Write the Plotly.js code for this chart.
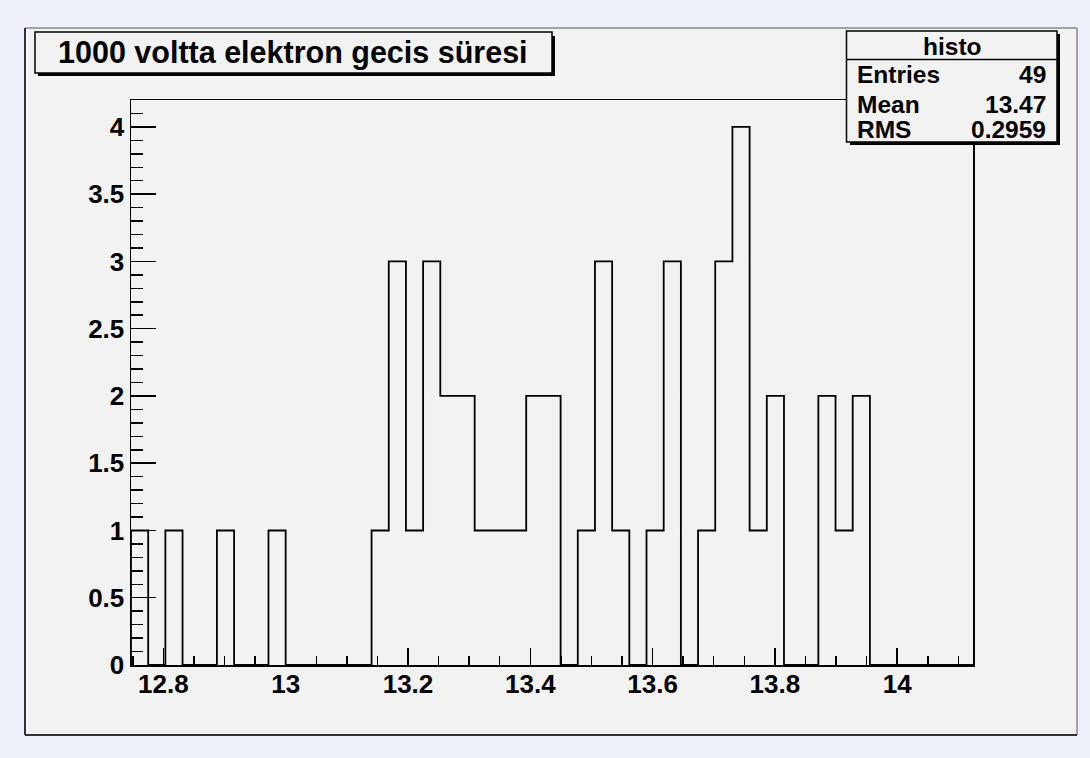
<!DOCTYPE html>
<html>
<head>
<meta charset="utf-8">
<script src="https://cdn.plot.ly/plotly-3.0.1.min.js"></script>
<style>
  html, body { margin: 0; padding: 0; background: #edf0f8; }
  #chart { width: 1090px; height: 758px; }
</style>
</head>
<body>
<div id="chart"></div>
<script>
// ---- data ----
const histName = "histo";
const chartTitle = "1000 voltta elektron gecis süresi";
const xMin = 12.747;
const xMax = 14.124;
const nBins = 49;
const binCounts = [1,0,1,0,0,1,0,0,1,0,0,0,0,0,1,3,1,3,2,2,1,1,1,2,2,0,1,3,1,0,1,3,0,1,3,4,1,2,0,0,2,1,2,0,0,0,0,0,0];
const statLabels = ["Entries", "Mean", "RMS"];
const statValues = ["49", "13.47", "0.2959"];
const xTickVals = [12.8, 13, 13.2, 13.4, 13.6, 13.8, 14];
const xTickText = ["12.8", "13", "13.2", "13.4", "13.6", "13.8", "14"];
const yTickVals = [0, 0.5, 1, 1.5, 2, 2.5, 3, 3.5, 4];
const yTickText = ["0", "0.5", "1", "1.5", "2", "2.5", "3", "3.5", "4"];
const yMax = 4.2;

// ---- build step outline from bins ----
const binWidth = (xMax - xMin) / nBins;
const stepX = [xMin], stepY = [0];
for (let i = 0; i < nBins; i++) {
  stepX.push(xMin + i * binWidth); stepY.push(binCounts[i]);
}
stepX.push(xMax); stepY.push(binCounts[nBins - 1]);
stepX.push(xMax); stepY.push(0);

// ---- layout geometry (pixels -> paper) ----
const W = 1090, H = 758;
const M = {l: 131, r: 117, t: 100, b: 93};
const PW = W - M.l - M.r, PH = H - M.t - M.b;
const px = v => (v - M.l) / PW;
const py = v => (H - M.b - v) / PH;

const FONT = "Liberation Sans, Arial, Helvetica, sans-serif";
const padFill = "#f2f2f2";

function rect(x0, y0, x1, y1, fill, line, lw, layer) {
  return {type: "rect", xref: "paper", yref: "paper",
    x0: px(x0), x1: px(x1), y0: py(y1), y1: py(y0),
    fillcolor: fill, line: {color: line, width: lw}, layer: layer || "above"};
}
function seg(x0, y0, x1, y1, color, lw, layer) {
  return {type: "line", xref: "paper", yref: "paper",
    x0: px(x0), x1: px(x1), y0: py(y0), y1: py(y1),
    line: {color: color, width: lw}, layer: layer || "above"};
}

const shapes = [
  // pad
  rect(25, 28, 1077, 735, padFill, "#555555", 1, "below"),
  seg(25, 28, 25, 735, "#333333", 2, "below"),
  seg(25, 735, 1077, 735, "#333333", 2, "below"),
  seg(27, 30, 27, 733, "#ffffff", 1, "below"),
  // title box with shadow
  rect(38, 36, 555, 76, "#000000", "#000000", 0),
  rect(35, 32, 552, 73, padFill, "#000000", 1.5),
  // stats box with shadow
  rect(850, 34, 1060, 145, "#000000", "#000000", 0),
  rect(846.5, 31, 1057, 142, padFill, "#000000", 1.5),
  seg(846.5, 59.5, 1057, 59.5, "#000000", 1.5)
];

const annFont = {family: FONT, size: 24.5, color: "#000000", weight: "bold"};
const annotations = [
  {text: chartTitle, xref: "paper", yref: "paper", x: px(292.5), y: py(53),
   xanchor: "center", yanchor: "middle", showarrow: false,
   font: {family: FONT, size: 30.5, color: "#000000", weight: "bold"}},
  {text: histName, xref: "paper", yref: "paper", x: px(952), y: py(46),
   xanchor: "center", yanchor: "middle", showarrow: false, font: annFont}
];
const rowY = [75, 104, 130];
statLabels.forEach((lab, i) => {
  annotations.push({text: lab, xref: "paper", yref: "paper", x: px(855), y: py(rowY[i]),
    xanchor: "left", yanchor: "middle", showarrow: false, font: annFont});
  annotations.push({text: statValues[i], xref: "paper", yref: "paper", x: px(1048), y: py(rowY[i]),
    xanchor: "right", yanchor: "middle", showarrow: false, font: annFont});
});

const tickFont = {family: FONT, size: 26, color: "#000000", weight: "bold"};

const trace = {
  type: "scatter", mode: "lines", x: stepX, y: stepY,
  line: {shape: "hv", color: "#000000", width: 1.8},
  hoverinfo: "skip", showlegend: false, cliponaxis: false
};

const layout = {
  width: W, height: H,
  margin: M,
  paper_bgcolor: "#edf0f8",
  plot_bgcolor: padFill,
  showlegend: false,
  xaxis: {
    range: [xMin, xMax], showgrid: false, zeroline: false,
    showline: true, mirror: true, linecolor: "#000000", linewidth: 1.5,
    ticks: "inside", ticklen: 17, tickwidth: 1.5, tickcolor: "#000000",
    tickmode: "array", tickvals: xTickVals, ticktext: xTickText,
    tickfont: tickFont, ticklabelstandoff: -5,
    minor: {ticks: "inside", dtick: 0.05, tick0: 12.8, ticklen: 9, tickwidth: 1.5, tickcolor: "#000000", showgrid: false}
  },
  yaxis: {
    range: [0, yMax], showgrid: false, zeroline: false,
    showline: true, mirror: true, linecolor: "#000000", linewidth: 1.5,
    ticks: "inside", ticklen: 25, tickwidth: 1.5, tickcolor: "#000000",
    tickmode: "array", tickvals: yTickVals, ticktext: yTickText,
    tickfont: tickFont, ticklabelstandoff: 0,
    minor: {ticks: "inside", dtick: 0.1, tick0: 0, ticklen: 12, tickwidth: 1.5, tickcolor: "#000000", showgrid: false}
  },
  shapes: shapes,
  annotations: annotations
};

Plotly.newPlot("chart", [trace], layout, {staticPlot: true, displayModeBar: false});
</script>
</body>
</html>
